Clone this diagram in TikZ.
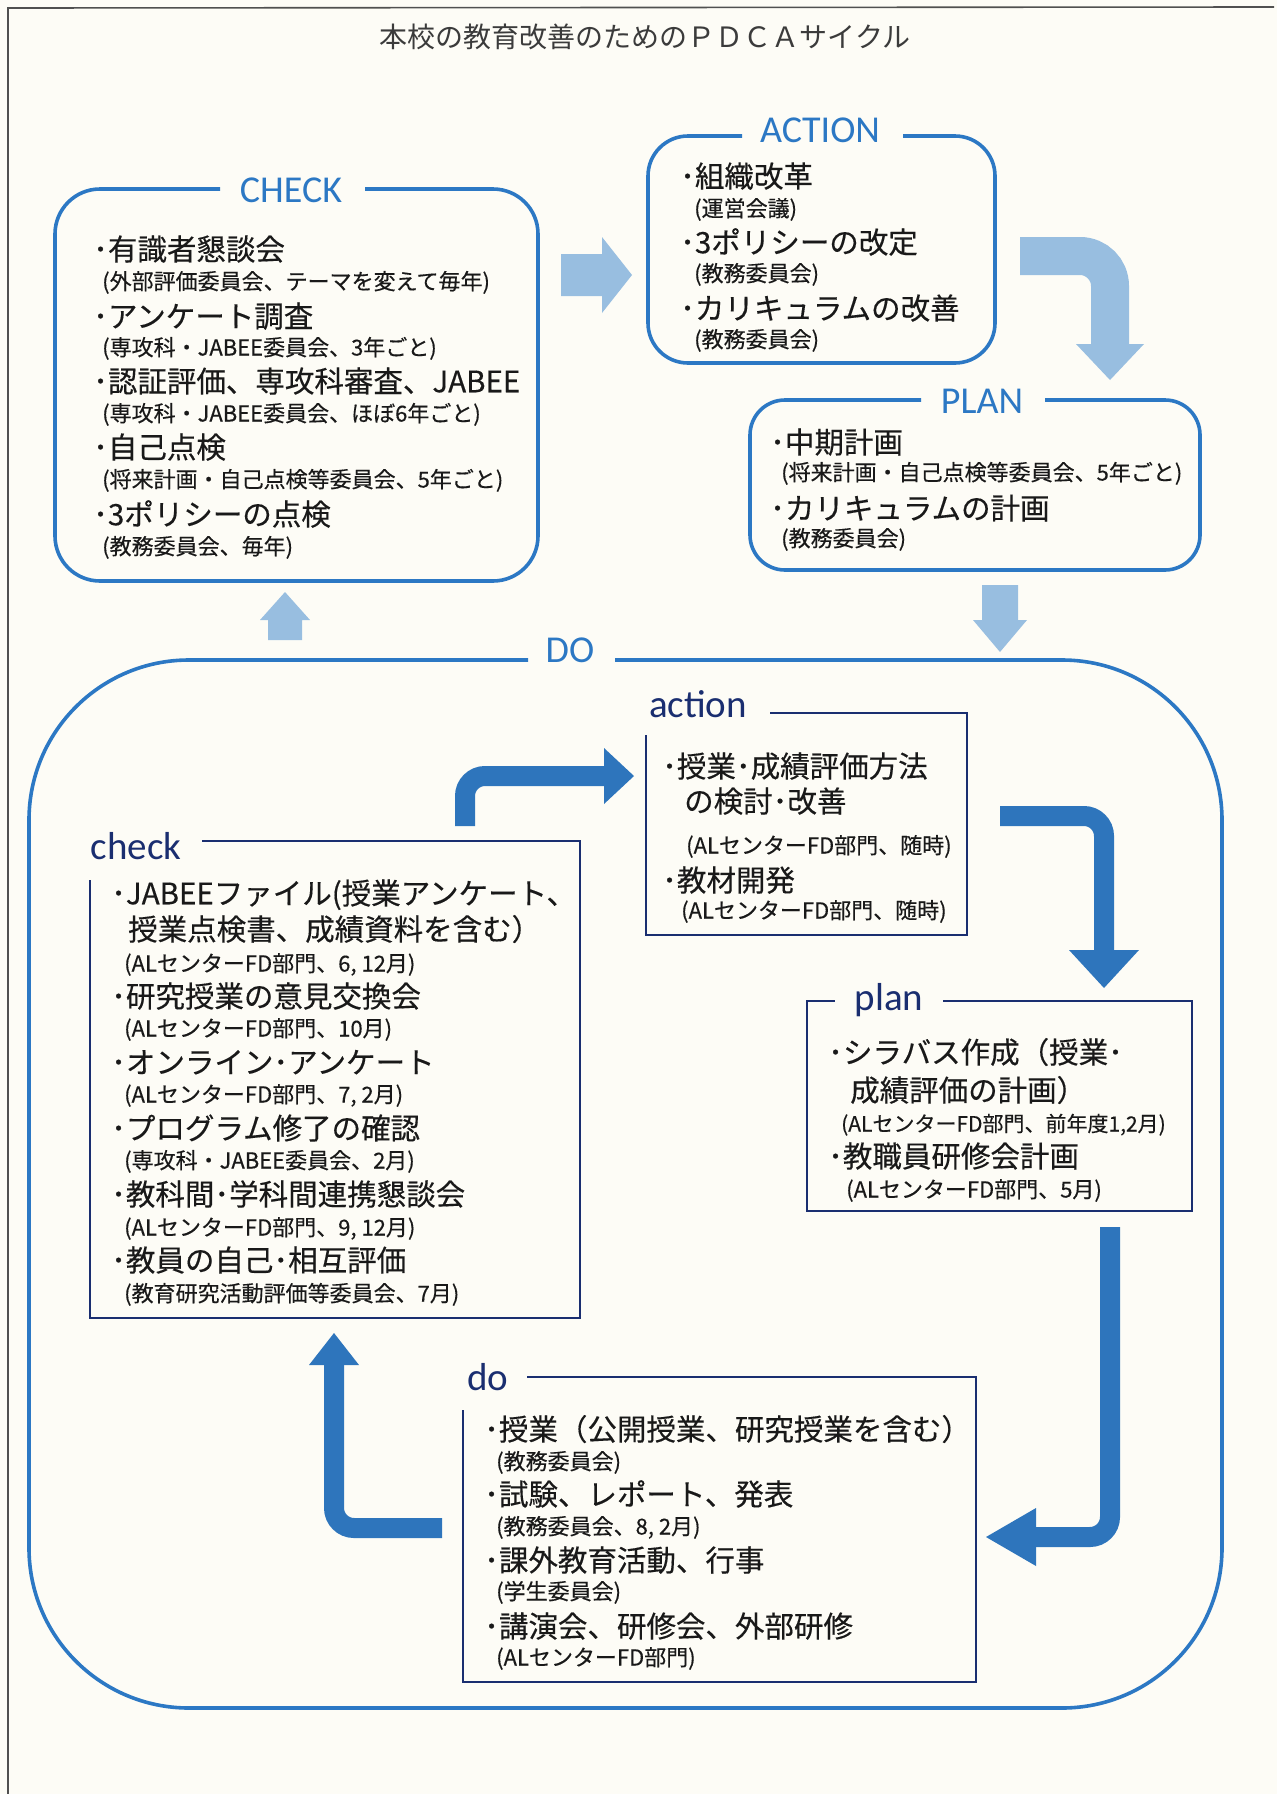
\documentclass[tikz,border=0pt]{standalone}
\usepackage{fontspec}
\setmainfont{Noto Sans CJK JP}[FakeBold=0.35]
\newfontfamily\titlefont{Noto Sans CJK JP}
\newfontfamily\labfont{Carlito}
\usetikzlibrary{calc}
\definecolor{paper}{RGB}{253,252,246}
\definecolor{bigblue}{RGB}{44,120,196}
\definecolor{lightblue}{RGB}{152,190,224}
\definecolor{navy}{RGB}{26,46,112}
\definecolor{midblue}{RGB}{46,117,188}
\definecolor{txt}{RGB}{25,25,25}
\definecolor{framegray}{RGB}{80,80,80}
\begin{document}
\begin{tikzpicture}[x=1pt,y=-1pt]
\tikzset{
 bigbox/.style={draw=bigblue, line width=3.6pt},
 smallbox/.style={draw=navy, line width=2.6pt},
 biglabel/.style={font=\labfont\fontsize{38}{38}\selectfont, text=bigblue, inner sep=0, anchor=base},
 smalllabel/.style={font=\labfont\fontsize{39}{39}\selectfont, text=navy, inner sep=0, anchor=base},
 mainitem/.style={anchor=west, inner sep=0, text=txt, font=\fontsize{29.5}{32}\selectfont, text height=26pt, text depth=3.5pt},
 subitem/.style={anchor=west, inner sep=0, text=txt, font=\fontsize{22}{24}\selectfont, text height=19.5pt, text depth=2.5pt},
 titlestyle/.style={inner sep=0, text=txt!85, font=\titlefont\fontsize{28}{28}\selectfont},
 lightfill/.style={fill=lightblue, draw=none},
 lightshaft/.style={draw=lightblue, line width=38pt, rounded corners=30pt},
 blueshaft/.style={draw=midblue, line width=20pt, rounded corners=20pt},
 bluefill/.style={fill=midblue, draw=none},
}
\useasboundingbox (0,0) rectangle (1277,1794);
\fill[paper] (0,0) rectangle (1277,1794);
\draw[framegray, line width=1.6pt] (1274,7) -- (8,8) -- (8,1794);

% title
\node[titlestyle] (title) at (645,37) {本校の教育改善のためのＰＤＣＡサイクル};

% ================= CHECK =================
\draw[bigbox, rounded corners=45pt] (365,189) -- (538,189) -- (538,581) -- (55,581) -- (55,189) -- (220,189);
\node[biglabel] (CHECKlbl) at (291,202) {CHECK};
\node[mainitem] (c1) at (93,249) {･有識者懇談会};
\node[subitem] (c1s) at (102,281) {(外部評価委員会、テーマを変えて毎年)};
\node[mainitem] (c2) at (93,316) {･アンケート調査};
\node[subitem] (c2s) at (102,347) {(専攻科・JABEE委員会、3年ごと)};
\node[mainitem] (c3) at (93,381) {･認証評価、専攻科審査、JABEE};
\node[subitem] (c3s) at (102,413) {(専攻科・JABEE委員会、ほぼ6年ごと)};
\node[mainitem] (c4) at (93,447) {･自己点検};
\node[subitem] (c4s) at (102,479) {(将来計画・自己点検等委員会、5年ごと)};
\node[mainitem] (c5) at (93,514) {･3ポリシーの点検};
\node[subitem] (c5s) at (102,546) {(教務委員会、毎年)};

% ================= ACTION =================
\draw[bigbox, rounded corners=40pt] (903,136) -- (995,136) -- (995,363) -- (648,363) -- (648,136) -- (742,136);
\node[biglabel] (ACTIONlbl) at (820,142) {ACTION};
\node[mainitem] (a1) at (680,176) {･組織改革};
\node[subitem] (a1s) at (694,208) {(運営会議)};
\node[mainitem] (a2) at (680,242) {･3ポリシーの改定};
\node[subitem] (a2s) at (694,273) {(教務委員会)};
\node[mainitem] (a3) at (680,308) {･カリキュラムの改善};
\node[subitem] (a3s) at (694,339) {(教務委員会)};

% ================= PLAN =================
\draw[bigbox, rounded corners=35pt] (1045,400) -- (1200,400) -- (1200,570) -- (750,570) -- (750,400) -- (921,400);
\node[biglabel] (PLANlbl) at (982,413) {PLAN};
\node[mainitem] (p1) at (770,442) {･中期計画};
\node[subitem] (p1s) at (781,472) {(将来計画・自己点検等委員会、5年ごと)};
\node[mainitem] (p2) at (770,508) {･カリキュラムの計画};
\node[subitem] (p2s) at (781,538) {(教務委員会)};

% ================= DO =================
\draw[bigbox, rounded corners=160pt] (615,660) -- (1222,660) -- (1222,1708) -- (29,1708) -- (29,660) -- (528,660);
\node[biglabel] (DOlbl) at (570,662) {DO};

% ---- light arrows ----
\coordinate (ca0) at (561,275);
\coordinate (ca1) at (632,275);
\fill[lightfill] ($(ca0)+(0,-21)$) -- ($(ca1)+(-30,-21)$) -- ($(ca1)+(-30,-38)$) -- (ca1) -- ($(ca1)+(-30,38)$) -- ($(ca1)+(-30,21)$) -- ($(ca0)+(0,21)$) -- cycle;

\coordinate (ap0) at (1020,256);
\coordinate (ap1) at (1110,256);
\coordinate (ap2) at (1110,380);
\draw[lightshaft] (ap0) -- (ap1) -- ($(ap2)+(0,-35)$);
\fill[lightfill] ($(ap2)+(-34,-36)$) -- (ap2) -- ($(ap2)+(34,-36)$) -- cycle;

\coordinate (pd0) at (1000,585);
\coordinate (pd1) at (1000,652);
\fill[lightfill] ($(pd0)+(-18,0)$) -- ($(pd1)+(-18,-32)$) -- ($(pd1)+(-27,-32)$) -- (pd1) -- ($(pd1)+(27,-32)$) -- ($(pd1)+(18,-32)$) -- ($(pd0)+(18,0)$) -- cycle;

\coordinate (dc0) at (285,640);
\coordinate (dc1) at (285,592);
\fill[lightfill] ($(dc0)+(-17,0)$) -- ($(dc1)+(-17,28)$) -- ($(dc1)+(-25,28)$) -- (dc1) -- ($(dc1)+(25,28)$) -- ($(dc1)+(17,28)$) -- ($(dc0)+(17,0)$) -- cycle;

% ================= action (inner) =================
\draw[smallbox] (770,713) -- (967,713) -- (967,935) -- (646,935) -- (646,735);
\node[smalllabel] (actionlbl) at (698,717) {action};
\node[mainitem] (i1) at (662,766) {･授業･成績評価方法};
\node[mainitem] (i1b) at (684,801) {の検討･改善};
\node[subitem] (i1s) at (686,845) {(ALセンターFD部門、随時)};
\node[mainitem] (i2) at (662,880) {･教材開発};
\node[subitem] (i2s) at (681,910) {(ALセンターFD部門、随時)};

% ================= check (inner) =================
\draw[smallbox] (202,841) -- (580,841) -- (580,1318) -- (90,1318) -- (90,880);
\node[smalllabel] (checklbl) at (136,859) {check};
\node[mainitem] (k1) at (111,893) {･JABEEファイル(授業アンケート、};
\node[mainitem] (k1b) at (128,929) {授業点検書、成績資料を含む）};
\node[subitem] (k1s) at (124,963) {(ALセンターFD部門、6, 12月)};
\node[mainitem] (k2) at (111,996) {･研究授業の意見交換会};
\node[subitem] (k2s) at (124,1028) {(ALセンターFD部門、10月)};
\node[mainitem] (k3) at (111,1062) {･オンライン･アンケート};
\node[subitem] (k3s) at (124,1094) {(ALセンターFD部門、7, 2月)};
\node[mainitem] (k4) at (111,1128) {･プログラム修了の確認};
\node[subitem] (k4s) at (124,1160) {(専攻科・JABEE委員会、2月)};
\node[mainitem] (k5) at (111,1194) {･教科間･学科間連携懇談会};
\node[subitem] (k5s) at (124,1227) {(ALセンターFD部門、9, 12月)};
\node[mainitem] (k6) at (111,1260) {･教員の自己･相互評価};
\node[subitem] (k6s) at (124,1293) {(教育研究活動評価等委員会、7月)};

% ================= plan (inner) =================
\draw[smallbox] (943,1001) -- (1192,1001) -- (1192,1211) -- (807,1211) -- (807,1001) -- (835,1001);
\node[smalllabel] (planlbl) at (889,1010) {plan};
\node[mainitem] (l1) at (828,1052) {･シラバス作成（授業･};
\node[mainitem] (l1b) at (850,1090) {成績評価の計画）};
\node[subitem, font=\fontsize{21}{24}\selectfont] (l1s) at (841,1123) {(ALセンターFD部門、前年度1,2月)};
\node[mainitem] (l2) at (828,1156) {･教職員研修会計画};
\node[subitem] (l2s) at (846,1189) {(ALセンターFD部門、5月)};

% ================= do (inner) =================
\draw[smallbox] (527,1377) -- (976,1377) -- (976,1682) -- (463,1682) -- (463,1410);
\node[smalllabel] (dolbl) at (488,1390) {do};
\node[mainitem] (d1) at (484,1429) {･授業（公開授業、研究授業を含む）};
\node[subitem] (d1s) at (496,1461) {(教務委員会)};
\node[mainitem] (d2) at (484,1494) {･試験、レポート、発表};
\node[subitem] (d2s) at (496,1526) {(教務委員会、8, 2月)};
\node[mainitem] (d3) at (484,1560) {･課外教育活動、行事};
\node[subitem] (d3s) at (496,1591) {(学生委員会)};
\node[mainitem] (d4) at (484,1626) {･講演会、研修会、外部研修};
\node[subitem] (d4s) at (496,1657) {(ALセンターFD部門)};

% ---- blue arrows ----
\coordinate (ka0) at (465,826);
\coordinate (ka1) at (465,776);
\coordinate (ka2) at (634,776);
\draw[blueshaft] (ka0) -- (ka1) -- ($(ka2)+(-29,0)$);
\fill[bluefill] ($(ka2)+(-30,-28)$) -- (ka2) -- ($(ka2)+(-30,28)$) -- cycle;

\coordinate (kp0) at (1000,816);
\coordinate (kp1) at (1104,816);
\coordinate (kp2) at (1104,988);
\draw[blueshaft] (kp0) -- (kp1) -- ($(kp2)+(0,-37)$);
\fill[bluefill] ($(kp2)+(-35,-38)$) -- (kp2) -- ($(kp2)+(35,-38)$) -- cycle;

\coordinate (pq0) at (1110,1227);
\coordinate (pq1) at (1110,1537);
\coordinate (pq2) at (986,1537);
\draw[blueshaft] (pq0) -- (pq1) -- ($(pq2)+(49,0)$);
\fill[bluefill] ($(pq2)+(50,-29)$) -- (pq2) -- ($(pq2)+(50,29)$) -- cycle;

\coordinate (dk0) at (442,1528);
\coordinate (dk1) at (334,1528);
\coordinate (dk2) at (334,1333);
\draw[blueshaft] (dk0) -- (dk1) -- ($(dk2)+(0,31)$);
\fill[bluefill] ($(dk2)+(-25,32)$) -- (dk2) -- ($(dk2)+(25,32)$) -- cycle;
\end{tikzpicture}
\end{document}
